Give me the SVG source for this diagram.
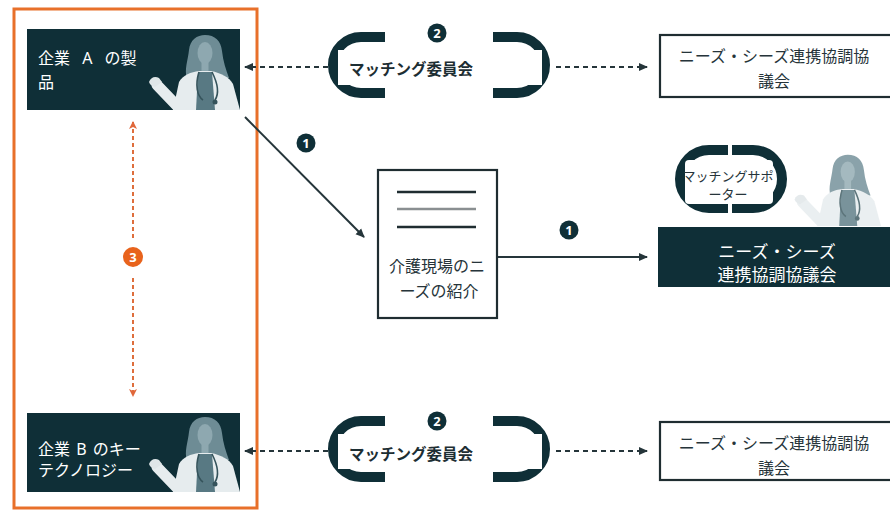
<svg xmlns="http://www.w3.org/2000/svg" xmlns:xlink="http://www.w3.org/1999/xlink" width="890" height="510" viewBox="0 0 890 510">
  <style>
    text { font-family: "Noto Sans", "Noto Sans CJK JP", sans-serif; }
    .dark { fill: #0f2f37; }
    .box { fill: #ffffff; stroke: #1f2d31; stroke-width: 2.2; }
    .lbl { fill: #26343a; font-size: 16px; text-anchor: middle; }
    .lbl-w { fill: #ffffff; font-size: 17px; text-anchor: middle; }
    .node-w { fill: #ffffff; font-size: 16px; }
    .mc { fill: #1d2e33; font-size: 15.5px; font-weight: 700; text-anchor: middle; }
    .bracket { fill: none; stroke: #0f2f37; stroke-width: 10; }
    .badge { fill: #0f2f37; }
    .badge-o { fill: #e8631c; }
    .badge-t { fill: #ffffff; font-size: 13px; font-weight: 700; text-anchor: middle; }
    .solid { stroke: #25353a; stroke-width: 2; fill: none; }
    .dash { stroke: #25353a; stroke-width: 2; stroke-dasharray: 5 4; fill: none; }
    .odash { stroke: #de6e3c; stroke-width: 2; stroke-dasharray: 4 3; fill: none; }
  </style>
  <defs>
    <marker id="arr" markerUnits="userSpaceOnUse" markerWidth="10" markerHeight="10" refX="8" refY="5" orient="auto">
      <path d="M0,1 L9,5 L0,9 Z" fill="#25353a"/>
    </marker>
    <marker id="arr-o" markerUnits="userSpaceOnUse" markerWidth="10" markerHeight="10" refX="7" refY="5" orient="auto">
      <path d="M0,1 L8,5 L0,9 L2,5 Z" fill="#e0673a"/>
    </marker>
    <!-- doctor figure, drawn in a 110x80 box -->
    <symbol id="doctor" viewBox="0 0 110 80">
      <path d="M52,48 C49,40 53,30 54,20 C55,10 62,5 70,5 C80,5 86,11 87,21 C88,31 91,40 94,48 Z" fill="#6e8c95"/>
      <rect x="66.5" y="31" width="7" height="11" fill="#8ea8b0"/>
      <ellipse cx="70" cy="23" rx="7.5" ry="11" fill="#8ea8b0"/>
      <path d="M38,80 L44,52 C48,45 56,42 64,41 L76,41 C86,43 94,47 98,54 L105,80 Z" fill="#e6ecee"/>
      <path d="M63,42 L77,42 L80,80 L61,80 Z" fill="#587983"/>
      <path d="M46,80 L22,55" stroke="#e6ecee" stroke-width="11" stroke-linecap="round"/>
      <path d="M14,52 C16,47 20,46 24,48 L27,52 L20,57 C17,56 15,55 14,52 Z" fill="#dfe6e8"/>
      <path d="M64,42 C60,55 62,66 68,70" stroke="#35535b" stroke-width="1.6" fill="none"/>
      <path d="M77,42 C83,54 84,64 80,70" stroke="#35535b" stroke-width="1.6" fill="none"/>
      <circle cx="80" cy="72" r="2.5" fill="#35535b"/>
    </symbol>
  </defs>

  <rect width="890" height="510" fill="#ffffff"/>

  <!-- company group frame -->
  <rect id="company-frame" x="14" y="9" width="243" height="499" fill="none" stroke="#e8702a" stroke-width="3"/>

  <!-- connectors -->
  <g id="connectors">
    <line class="dash" x1="328" y1="67" x2="245" y2="67" marker-end="url(#arr)"/>
    <line class="dash" x1="556" y1="67" x2="647" y2="67" marker-end="url(#arr)"/>
    <line class="dash" x1="328" y1="451" x2="245" y2="451" marker-end="url(#arr)"/>
    <line class="dash" x1="556" y1="451" x2="647" y2="451" marker-end="url(#arr)"/>
    <line class="solid" x1="245" y1="117" x2="364" y2="237" marker-end="url(#arr)"/>
    <line class="solid" x1="497" y1="257" x2="647" y2="257" marker-end="url(#arr)"/>
    <line class="odash" x1="133" y1="238" x2="133" y2="122" marker-end="url(#arr-o)"/>
    <line class="odash" x1="133" y1="278" x2="133" y2="396" marker-end="url(#arr-o)"/>
  </g>

  <!-- step badges -->
  <g id="badges">
    <circle class="badge" cx="306" cy="143" r="9.5"/><text class="badge-t" x="306" y="147.5">1</text>
    <circle class="badge" cx="569" cy="230" r="9.5"/><text class="badge-t" x="569" y="234.5">1</text>
    <circle class="badge" cx="437" cy="33" r="9.5"/><text class="badge-t" x="437" y="37.5">2</text>
    <circle class="badge" cx="437" cy="421" r="9.5"/><text class="badge-t" x="437" y="425.5">2</text>
    <circle class="badge-o" cx="133" cy="257" r="10"/><text class="badge-t" x="133" y="261.5">3</text>
  </g>

  <!-- company A product -->
  <g id="company-a">
    <rect class="dark" x="27" y="29" width="213" height="81"/>
    <use href="#doctor" xlink:href="#doctor" x="135" y="30" width="110" height="80"/>
    <text class="node-w" x="38" y="64" word-spacing="8">企業 A の製</text>
    <text class="node-w" x="38" y="88">品</text>
  </g>

  <!-- company B key technology -->
  <g id="company-b">
    <rect class="dark" x="27" y="413" width="213" height="79"/>
    <use href="#doctor" xlink:href="#doctor" x="135" y="412" width="110" height="80"/>
    <text class="node-w" x="38" y="455" word-spacing="2">企業 B のキー</text>
    <text class="node-w" x="38" y="476">テクノロジー</text>
  </g>

  <!-- matching committee (top) -->
  <g id="matching-committee-1">
    <path class="bracket" d="M385,37 H361 A28,28 0 0 0 361,93 H385"/>
    <path class="bracket" d="M493,37 H517 A28,28 0 0 1 517,93 H493"/>
    <rect x="338" y="50" width="204" height="35" fill="#ffffff"/>
    <text class="mc" x="411" y="75">マッチング委員会</text>
  </g>

  <!-- matching committee (bottom) -->
  <g id="matching-committee-2">
    <path class="bracket" d="M385,421 H361 A28,28 0 0 0 361,477 H385"/>
    <path class="bracket" d="M493,421 H517 A28,28 0 0 1 517,477 H493"/>
    <rect x="338" y="434" width="204" height="35" fill="#ffffff"/>
    <text class="mc" x="411" y="460">マッチング委員会</text>
  </g>

  <!-- needs/seeds council boxes -->
  <g id="council-top">
    <rect class="box" x="660" y="35" width="240" height="62"/>
    <text class="lbl" x="774" y="62">ニーズ・シーズ連携協調協</text>
    <text class="lbl" x="774" y="87">議会</text>
  </g>
  <g id="council-bottom">
    <rect class="box" x="660" y="422" width="240" height="58"/>
    <text class="lbl" x="774" y="449">ニーズ・シーズ連携協調協</text>
    <text class="lbl" x="774" y="474">議会</text>
  </g>

  <!-- needs introduction document -->
  <g id="needs-doc">
    <rect class="box" x="378" y="170" width="119" height="148"/>
    <line x1="397" y1="192" x2="476" y2="192" stroke="#1f2d31" stroke-width="2.5"/>
    <line x1="397" y1="209" x2="476" y2="209" stroke="#8a8f91" stroke-width="2.5"/>
    <line x1="397" y1="227" x2="476" y2="227" stroke="#1f2d31" stroke-width="2.5"/>
    <text class="lbl" x="437" y="272">介護現場のニ</text>
    <text class="lbl" x="439" y="297">ーズの紹介</text>
  </g>

  <!-- matching supporter with council -->
  <g id="matching-supporter">
    <path class="bracket" d="M728,150 H709 A29,29 0 0 0 709,208 H728"/>
    <path class="bracket" d="M732,150 H753 A29,29 0 0 1 753,208 H732"/>
    <rect x="685" y="160" width="88" height="44" rx="4" fill="#ffffff"/>
    <text x="728" y="181" fill="#26343a" font-size="13" text-anchor="middle">マッチングサポ</text>
    <text x="728" y="199" fill="#26343a" font-size="13" text-anchor="middle">ーター</text>
  </g>
  <g id="council-main">
    <use href="#doctor" xlink:href="#doctor" x="781" y="150" width="105" height="76" opacity="0.8"/>
    <rect class="dark" x="658" y="227" width="232" height="60"/>
    <text class="lbl-w" x="777" y="258">ニーズ・シーズ</text>
    <text class="lbl-w" x="777" y="281">連携協調協議会</text>
  </g>
</svg>
